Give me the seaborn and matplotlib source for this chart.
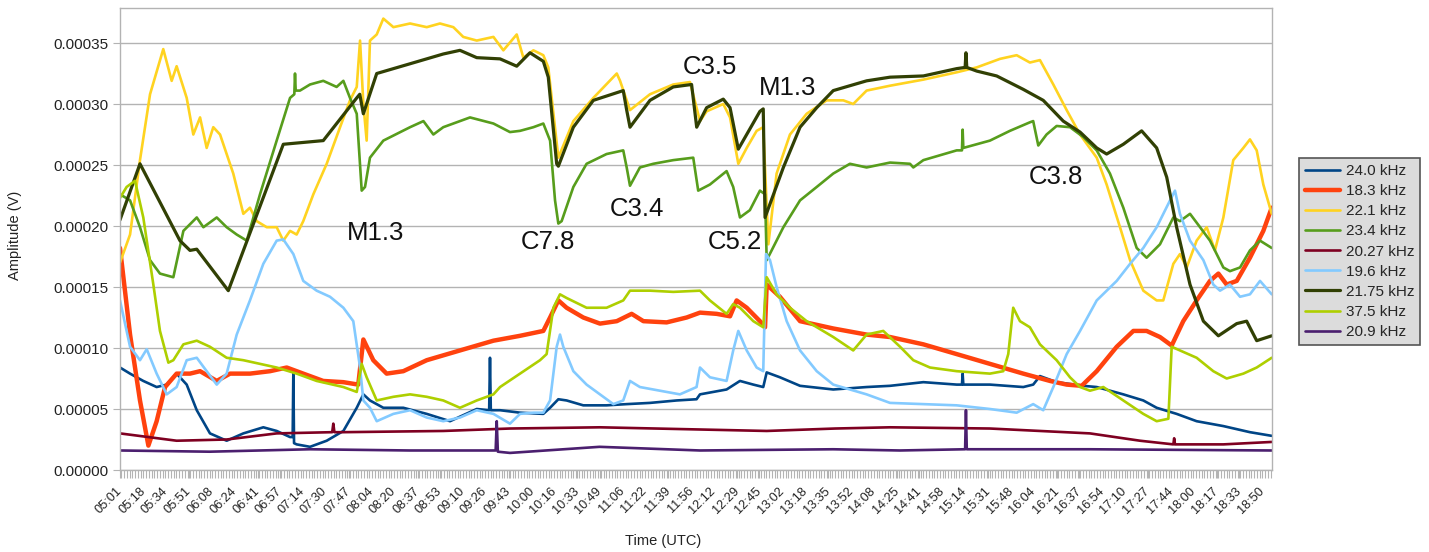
import numpy as np
import pandas as pd
import matplotlib
matplotlib.use("Agg")
import matplotlib.pyplot as plt
from matplotlib.ticker import FuncFormatter, MultipleLocator
from matplotlib.lines import Line2D
import seaborn as sns

# Time axis: minutes after 05:00 UTC.  Amplitudes: microvolts.
t_24_0 = [1, 8.3, 17.9, 27.6, 34.9, 42.1, 49.4, 56.7, 66.3, 78.4, 90.5, 105, 114.7, 124.4,
          126.3, 126.8, 127.3, 129.2, 138.9, 151, 163.1, 172.8, 177.6, 182.4, 192.1, 206.6,
          223.6, 240.5, 259.9, 268.9, 269.5, 270.1, 272, 276.8, 291.3, 308.2, 313.1, 319.1,
          325.1, 337.2, 354.1, 368.7, 385.6, 405, 419.4, 421.9, 441.2, 450.9, 460.6, 467.8,
          470.3, 479.9, 494.5, 518.6, 542.8, 559.8, 584, 608.2, 612.0, 612.5, 613.0, 632.3,
          656.5, 663.7, 668.6, 680.7, 700, 709.8, 729.1, 743.6, 753.3, 767.8, 782.3, 801.7,
          821, 836.8]
a_24_0 = [84, 79, 73, 68, 70, 79, 70, 49, 30, 24, 30, 35, 32, 27,
          27, 81, 22, 21, 19, 24, 32, 51, 62, 57, 51, 51,
          46, 40, 50, 49, 92, 49, 49, 49, 47, 46, 51, 58,
          57, 53, 53, 54, 55, 57, 58, 62, 66, 73, 70, 68,
          80, 76, 69, 66, 68, 69, 72, 70, 70, 79, 70, 70,
          68, 70, 77, 72, 69, 68, 62, 57, 51, 46, 40, 36,
          31, 28]

t_18_3 = [1, 8.3, 15.5, 21.6, 27.6, 33.7, 42.1, 51.8, 59.1, 71.2, 80.9, 95.3, 109.9, 122,
          134, 148.5, 163.1, 173.9, 177.6, 184.8, 194.5, 206.6, 223.6, 247.7, 272, 291.3,
          308.2, 313.1, 319.1, 325.1, 337.2, 349.3, 361.5, 372.3, 380.8, 397.7, 412.2, 421.9,
          434, 443.7, 448.5, 455.8, 465.4, 469.1, 470.3, 479.9, 494.5, 518.6, 542.8, 559.8,
          584, 608.2, 632.3, 656.5, 675.9, 688, 698.9, 709.8, 724.3, 736.4, 746, 755.7,
          764.2, 772.6, 782.3, 792, 798.1, 804.1, 811.4, 821, 830.7, 836.8]
a_18_3 = [182, 111, 57, 20, 40, 68, 79, 79, 81, 73, 79, 79, 81, 84,
          79, 73, 72, 70, 107, 90, 79, 81, 90, 98, 106, 110,
          114, 125, 139, 133, 125, 120, 122, 128, 122, 121, 125, 129,
          128, 126, 139, 133, 122, 117, 152, 142, 122, 116, 111, 109,
          103, 95, 87, 79, 73, 70, 69, 81, 101, 114, 114, 109,
          102, 122, 139, 155, 161, 152, 155, 174, 196, 215]

t_22_1 = [1, 8.3, 15.5, 22.8, 32.4, 38.5, 42.1, 49.4, 54.2, 59.1, 63.9, 68.7, 73.6, 78.4,
          83.2, 90.5, 95.3, 100.2, 107.5, 114.7, 119.5, 124.4, 129.2, 134, 141.3, 151,
          160.7, 167.9, 172.8, 175.2, 177.6, 180, 182.4, 187.3, 192.1, 199.4, 211.5, 223.6,
          233.2, 242.9, 250.1, 259.9, 272, 279.2, 288.9, 293.7, 301, 308.2, 311.8, 319.1,
          330, 344.5, 361.5, 363.9, 371.1, 385.6, 402.5, 414.6, 421.9, 426.7, 438.8, 443.7,
          449.7, 455.8, 463, 467.8, 471.5, 477.5, 487.2, 499.3, 513.8, 525.9, 533.1, 542.8,
          559.8, 584, 608.2, 622.7, 639.6, 651.7, 661.3, 668.6, 678.3, 688, 697.7, 709.8,
          717, 726.7, 734, 743.6, 753.3, 758.1, 765.4, 770.2, 775.1, 782.3, 789.6, 795.6,
          801.7, 808.9, 816.2, 821, 825.9, 830.7, 836.8]
a_22_1 = [170, 193, 254, 308, 345, 319, 331, 305, 275, 289, 264, 281, 275, 259,
          243, 210, 215, 204, 199, 199, 188, 196, 193, 204, 226, 251,
          281, 303, 314, 352, 300, 270, 352, 357, 370, 363, 366, 363,
          366, 363, 355, 352, 355, 344, 357, 338, 344, 340, 330, 256,
          286, 305, 325, 319, 295, 308, 316, 318, 286, 294, 300, 289,
          251, 264, 278, 281, 185, 243, 275, 292, 303, 303, 300, 311,
          315, 320, 326, 330, 337, 340, 334, 336, 316, 295, 275, 256,
          234, 199, 172, 147, 139, 139, 169, 177, 166, 188, 199, 180,
          207, 254, 264, 271, 262, 234, 210]

t_23_4 = [1, 8.3, 15.5, 22.8, 30, 39.7, 47, 56.7, 61.5, 71.2, 78.4, 85.7, 93, 102.6,
          114.7, 124.4, 127.5, 128, 128.5, 131.6, 138.9, 148.5, 158.2, 163.1, 167.9, 172.8,
          176.4, 178.8, 182.4, 192.1, 211.5, 221.2, 228.4, 235.6, 255, 272, 284, 291.3,
          301, 308.2, 313.1, 316.7, 319.1, 321.5, 330, 339.6, 354.1, 366.2, 368.7, 371.1,
          378.3, 388, 402.5, 417, 420.6, 429.1, 441.2, 446, 450.9, 458.1, 465.4, 469.1,
          470.3, 482.4, 494.5, 506.6, 518.6, 530.7, 542.8, 559.8, 574.3, 576.7, 584, 608.2,
          612.0, 612.5, 613.0, 632.3, 646.8, 661.3, 663.7, 667.4, 673.4, 680.7, 690.4, 700,
          709.8, 719.4, 729.1, 738.8, 746, 755.7, 765.4, 770.2, 777.5, 784.8, 792, 801.7,
          806.5, 813.8, 821, 828.3, 836.8]
a_23_4 = [226, 221, 199, 172, 161, 158, 196, 207, 199, 207, 199, 193, 188, 226,
          270, 305, 308, 325, 311, 311, 316, 319, 314, 319, 305, 292,
          229, 232, 256, 270, 281, 286, 275, 281, 289, 284, 277, 278,
          281, 284, 270, 221, 202, 204, 232, 251, 259, 262, 248, 233,
          248, 251, 254, 256, 229, 234, 245, 232, 207, 213, 229, 226,
          172, 199, 221, 232, 243, 251, 248, 252, 251, 248, 254, 262,
          262, 279, 264, 270, 278, 285, 286, 266, 275, 282, 281, 273,
          262, 243, 215, 182, 174, 185, 207, 204, 210, 199, 188, 166,
          163, 166, 180, 188, 182]

t_20_27 = [1, 42.1, 78.4, 114.7, 155, 155.8, 156.6, 163.1, 235.6, 284, 349.3, 470.3, 520,
           559.8, 632.3, 704.9, 741.2, 765.4, 766, 766.6, 801.7, 836.8]
a_20_27 = [30, 24, 25, 30, 31, 38, 31, 31, 32, 34, 35, 32, 34,
           35, 34, 30, 24, 21, 26, 21, 21, 23]

t_19_6 = [1, 8.3, 15.5, 20.4, 27.6, 34.9, 42.1, 49.4, 56.7, 63.9, 71.2, 78.4, 85.7, 95.3,
          105, 114.7, 119.5, 126.8, 134, 143.7, 153.4, 163.1, 170.3, 175.2, 177.6, 182.4,
          187.3, 199.4, 211.5, 223.6, 235.6, 247.7, 259.9, 272, 284, 291.3, 301, 308.2,
          313.1, 317.9, 320.3, 322.7, 330, 339.6, 349.3, 359, 366.2, 371.1, 378.3, 392.8,
          407.3, 419.4, 421.9, 429.1, 441.2, 446, 449.7, 455.8, 463, 467.8, 469.8, 472.7,
          477.5, 484.8, 494.5, 506.6, 518.6, 542.8, 559.8, 584, 608.2, 632.3, 651.7, 663.7,
          671, 678.3, 688, 697.7, 709.8, 724.3, 734, 743.6, 753.3, 763, 766.6, 770.2,
          777.5, 787.2, 794.4, 799.3, 806.5, 813.8, 821, 828.3, 836.8]
a_19_6 = [139, 101, 90, 99, 79, 62, 68, 90, 92, 81, 70, 79, 111, 139,
          169, 188, 189, 177, 155, 147, 142, 133, 122, 84, 57, 51,
          40, 46, 49, 43, 40, 43, 49, 46, 38, 46, 47, 47,
          57, 101, 111, 101, 81, 70, 62, 54, 57, 73, 68, 65,
          62, 68, 84, 76, 73, 98, 114, 98, 84, 81, 177, 172,
          150, 122, 98, 81, 70, 62, 55, 54, 53, 50, 47, 54,
          49, 68, 95, 114, 139, 155, 169, 182, 199, 221, 229, 210,
          188, 172, 152, 147, 152, 142, 144, 155, 144]

t_21_75 = [1, 15.5, 44.5, 51.8, 56.7, 79.6, 119.5, 148.5, 172.8, 175, 177.6, 187.3, 211.5,
           235.6, 247.7, 259.9, 276.8, 288.9, 298.5, 308.2, 311.8, 317.9, 319.1, 330, 344.5,
           366.2, 368.7, 371.1, 385.6, 402.5, 415.8, 419.5, 426.7, 438.8, 443.7, 449.7, 465.4,
           467.8, 469.1, 482.4, 494.5, 506.6, 518.6, 542.8, 559.8, 584, 608.2, 614.3, 614.9,
           615.5, 622.7, 637.2, 656.5, 671, 685.5, 697.7, 709.8, 717, 729.1, 742.4, 753.3,
           760.6, 767.8, 777.5, 787.2, 798.1, 811.4, 818.6, 825.9, 836.8]
a_21_75 = [205, 251, 188, 180, 181, 147, 267, 270, 305, 308, 292, 325, 333,
           341, 344, 338, 337, 331, 342, 335, 322, 251, 249, 281, 303,
           311, 295, 281, 303, 314, 316, 281, 297, 304, 297, 263, 294,
           296, 207, 248, 281, 297, 311, 319, 322, 323, 329, 330, 342,
           330, 327, 323, 312, 303, 286, 277, 264, 259, 267, 278, 264,
           240, 199, 152, 122, 110, 120, 122, 106, 110]

t_37_5 = [1, 5.8, 11.9, 17.9, 25.2, 30, 36.1, 39.7, 47, 56.7, 66.3, 78.4, 90.5, 102.6,
          114.7, 129.2, 143.7, 163.1, 172.8, 176.4, 180, 187.3, 199.4, 211.5, 223.6, 235.6,
          247.7, 259.9, 272, 276.8, 291.3, 305.8, 310.6, 315.5, 320.3, 325.1, 339.6, 354.1,
          366.2, 371.1, 385.6, 402.5, 421.9, 429.1, 441.2, 446, 450.9, 460.6, 467.8, 470.3,
          477.5, 487.2, 499.3, 518.6, 533.1, 542.8, 554.9, 567.1, 576.7, 588.8, 608.2, 632.3,
          642, 645.6, 649.2, 654.1, 661.3, 668.6, 680.7, 690.4, 697.7, 704.9, 714.6, 729.1,
          743.6, 753.3, 761.8, 764.2, 770.2, 782.3, 794.4, 804.1, 816.2, 825.9, 836.8]
a_37_5 = [223, 232, 237, 207, 152, 114, 88, 90, 103, 106, 101, 92, 90, 87,
          84, 79, 73, 68, 64, 87, 76, 57, 60, 62, 60, 57,
          51, 57, 62, 68, 79, 90, 95, 133, 144, 141, 133, 133,
          139, 147, 147, 146, 147, 139, 128, 136, 133, 122, 117, 158,
          144, 133, 122, 109, 98, 111, 114, 101, 90, 84, 81, 79,
          81, 95, 133, 122, 117, 103, 90, 76, 68, 65, 68, 57,
          46, 40, 42, 101, 98, 92, 81, 75, 79, 84, 92]

t_20_9 = [1, 66, 139, 211, 273.6, 274.4, 275.2, 284, 349, 421.9, 518.6, 567, 614.3, 614.9,
          615.5, 704.9, 836.8]
a_20_9 = [16, 15, 17, 16, 16, 40, 15, 14, 19, 16, 17, 16, 17, 49,
          17, 17, 16]

stations = ["24.0 kHz", "18.3 kHz", "22.1 kHz", "23.4 kHz", "20.27 kHz",
            "19.6 kHz", "21.75 kHz", "37.5 kHz", "20.9 kHz"]
times = [t_24_0, t_18_3, t_22_1, t_23_4, t_20_27, t_19_6, t_21_75, t_37_5, t_20_9]
amps = [a_24_0, a_18_3, a_22_1, a_23_4, a_20_27, a_19_6, a_21_75, a_37_5, a_20_9]

tick_labels = ["05:01", "05:18", "05:34", "05:51", "06:08", "06:24", "06:41", "06:57",
               "07:14", "07:30", "07:47", "08:04", "08:20", "08:37", "08:53", "09:10",
               "09:26", "09:43", "10:00", "10:16", "10:33", "10:49", "11:06", "11:22",
               "11:39", "11:56", "12:12", "12:29", "12:45", "13:02", "13:18", "13:35",
               "13:52", "14:08", "14:25", "14:41", "14:58", "15:14", "15:31", "15:48",
               "16:04", "16:21", "16:37", "16:54", "17:10", "17:27", "17:44", "18:00",
               "18:17", "18:33", "18:50"]

flare_classes = ["M1.3", "C7.8", "C3.4", "C3.5", "M1.3", "C5.2", "C3.8"]
flare_t = [186.6, 311.8, 376, 429.2, 485.8, 447.4, 680]
flare_a = [194.5, 186.9, 214, 330, 312.9, 186.9, 240]

# Long-form table for seaborn
df = pd.concat(
    [pd.DataFrame({"minute": t, "amplitude": np.asarray(a, float) * 1e-6, "station": s})
     for s, t, a in zip(stations, times, amps)],
    ignore_index=True)

palette = {"24.0 kHz": "#004586", "18.3 kHz": "#ff420e", "22.1 kHz": "#ffd320",
           "23.4 kHz": "#579d1c", "20.27 kHz": "#7e0021", "19.6 kHz": "#83caff",
           "21.75 kHz": "#314004", "37.5 kHz": "#aecf00", "20.9 kHz": "#4b1f6f"}
widths = {s: 1.9 for s in stations}
widths["18.3 kHz"] = 3.2
widths["21.75 kHz"] = 2.3

sns.set_theme(style="white")
plt.rcParams["font.family"] = ["Liberation Sans", "DejaVu Sans"]

W, H = 1429, 552
fig = plt.figure(figsize=(W / 100, H / 100), dpi=100)
ax = fig.add_axes([120 / W, 1 - 470 / H, 1152 / W, 462 / H])

for s in stations:
    sns.lineplot(data=df[df["station"] == s], x="minute", y="amplitude",
                 color=palette[s], linewidth=widths[s], sort=False, estimator=None,
                 ax=ax, legend=False)

for lab, t, a in zip(flare_classes, flare_t, flare_a):
    ax.text(t, a * 1e-6, lab, ha="center", va="center", fontsize=18.5, color="#111111")

ax.set_xlim(1, 837)
ax.set_ylim(0, 378.7e-6)

def to_minutes(hhmm):
    h, m = hhmm.split(":")
    return (int(h) - 5) * 60 + int(m)

ax.set_xticks([to_minutes(s) for s in tick_labels])
ax.set_xticklabels(tick_labels, rotation=45, ha="right", va="center",
                   rotation_mode="anchor", fontsize=9.2, color="#222222")
ax.xaxis.set_minor_locator(MultipleLocator(2))
ax.tick_params(axis="x", which="both", direction="out", length=6, width=0.8,
               color="#b3b3b3", pad=8, bottom=True)
ax.set_yticks(np.arange(0, 0.000351, 0.00005))
ax.yaxis.set_major_formatter(FuncFormatter(lambda v, p: f"{v:.5f}"))
ax.tick_params(axis="y", direction="out", length=5, width=0.8, color="#b3b3b3",
               pad=3, labelsize=11, labelcolor="#222222", left=True)
ax.yaxis.grid(True, color="#b3b3b3", linewidth=1)
ax.xaxis.grid(False)
for sp in ax.spines.values():
    sp.set_color("#b3b3b3")
    sp.set_linewidth(1)

ax.set_xlabel("Time (UTC)", fontsize=10.5, color="#222222")
ax.set_ylabel("Amplitude (V)", fontsize=10.5, color="#222222")
ax.xaxis.set_label_coords((663 - 120) / 1152, (470 - 534) / 462)
ax.yaxis.set_label_coords((22 - 120) / 1152, (470 - 235) / 462)

handles = [Line2D([], [], color=palette[s], linewidth=widths[s]) for s in stations]
leg = ax.legend(handles, stations, loc="upper left",
                bbox_to_anchor=(1299 / W, 1 - 158 / H), bbox_transform=fig.transFigure,
                frameon=True, fancybox=False, framealpha=1, facecolor="#dcdcdc",
                edgecolor="#555555", fontsize=11, handlelength=2.3, handletextpad=0.35,
                labelspacing=0.4, borderpad=0.4, borderaxespad=0)
leg.get_frame().set_linewidth(1.2)

fig.savefig("out.png", dpi=100)
